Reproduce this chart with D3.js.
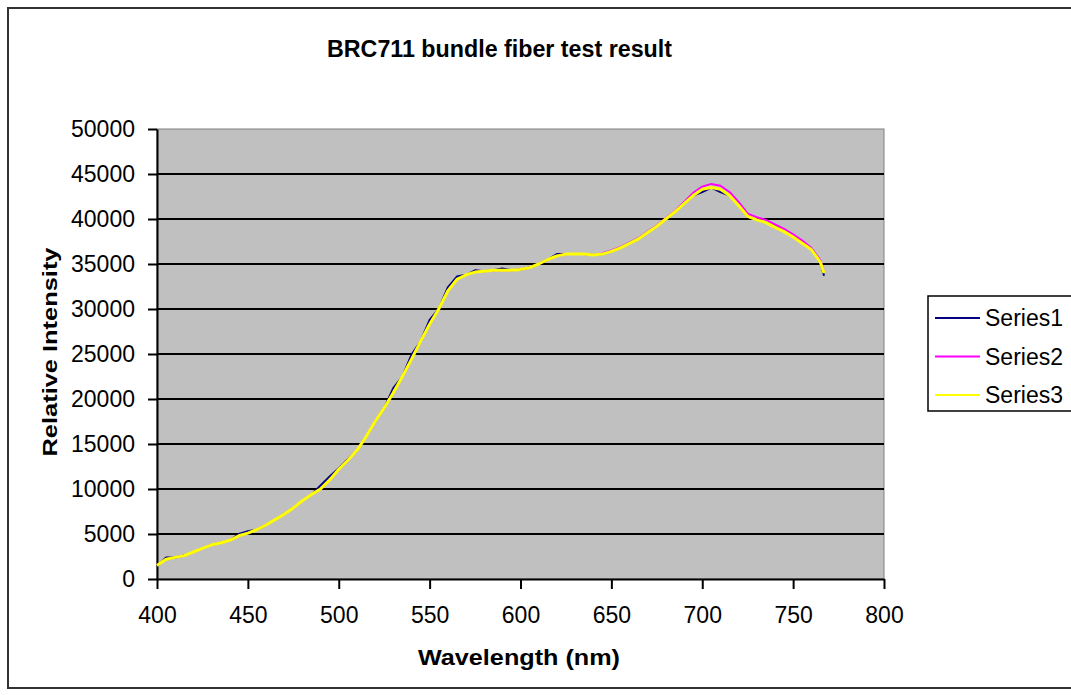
<!DOCTYPE html>
<html>
<head>
<meta charset="utf-8">
<script src="https://cdn.jsdelivr.net/npm/d3@7"></script>
<style>
  html, body { margin: 0; padding: 0; background: #fff; }
  svg { display: block; font-family: "Liberation Sans", Arial, sans-serif; }
</style>
</head>
<body>
<script>
// wavelength (nm) sample points
const wavelengths = [400, 405, 410, 415, 420, 425, 430, 435, 440, 445, 450, 455, 460, 465, 470, 475,
  480, 485, 490, 495, 500, 505, 510, 515, 520, 525, 530, 535, 540, 545, 550, 555, 560, 565, 570,
  575, 580, 585, 590, 595, 600, 605, 610, 615, 620, 625, 630, 635, 640, 645, 650, 655, 660, 665,
  670, 675, 680, 685, 690, 695, 700, 705, 710, 715, 720, 725, 730, 735, 740, 745, 750, 755, 760,
  765, 767];

const series1 = [1400, 2400, 2400, 2600, 3000, 3400, 3800, 4000, 4300, 5000, 5300, 5500, 6000, 6600,
  7200, 7900, 8700, 9400, 10400, 11400, 12300, 13300, 14300, 15800, 17500, 19000, 21200, 22500,
  24900, 26400, 28800, 30000, 32400, 33600, 33800, 34300, 34200, 34300, 34500, 34300, 34400, 34600,
  35000, 35500, 36100, 36100, 36100, 36100, 36000, 36100, 36400, 36800, 37300, 37800, 38500, 39200,
  40000, 40800, 41700, 42600, 43000, 43500, 43000, 42600, 41500, 40300, 39900, 39600, 39300, 38600,
  38000, 37500, 36600, 35200, 33700];

const series2 = [1500, 2200, 2400, 2600, 3000, 3400, 3800, 4000, 4300, 4800, 5100, 5500, 6000, 6600,
  7200, 7900, 8700, 9400, 10000, 11000, 12200, 13200, 14300, 15800, 17500, 19000, 20700, 22500,
  24400, 26400, 28300, 30000, 32000, 33300, 33800, 34100, 34200, 34300, 34300, 34300, 34400, 34600,
  35000, 35500, 35900, 36100, 36100, 36100, 36000, 36200, 36500, 36900, 37400, 37900, 38600, 39300,
  40100, 40900, 41900, 42900, 43600, 43900, 43700, 43000, 41900, 40600, 40200, 39900, 39400, 38900,
  38300, 37600, 36800, 35400, 34100];

const series3 = [1500, 2200, 2400, 2600, 3000, 3400, 3800, 4000, 4300, 4800, 5100, 5500, 6000, 6600,
  7200, 7900, 8700, 9400, 10000, 11000, 12200, 13200, 14300, 15800, 17500, 19000, 20700, 22500,
  24400, 26400, 28300, 30000, 32000, 33300, 33800, 34100, 34200, 34300, 34300, 34300, 34400, 34600,
  35000, 35500, 35900, 36100, 36100, 36100, 36000, 36100, 36400, 36800, 37300, 37800, 38500, 39200,
  40000, 40800, 41700, 42600, 43300, 43500, 43300, 42600, 41500, 40300, 39900, 39600, 39100, 38600,
  38000, 37300, 36600, 35200, 34000];

const seriesNames = ["Series1", "Series2", "Series3"];
const seriesColors = ["#000080", "#ff00ff", "#ffff00"];
const xTicks = [400, 450, 500, 550, 600, 650, 700, 750, 800];
const yTicks = d3.range(0, 50001, 5000);

const W = 1071, H = 695;
const plot = { left: 157, top: 129, right: 884, bottom: 579 };

const svg = d3.select("body").append("svg")
  .attr("width", W)
  .attr("height", H);

// chart frame
svg.append("rect")
  .attr("x", 8).attr("y", 8)
  .attr("width", W + 10).attr("height", 680)
  .attr("fill", "#fff")
  .attr("stroke", "#333")
  .attr("stroke-width", 2);

const x = d3.scaleLinear().domain([400, 800]).range([plot.left, plot.right]);
const y = d3.scaleLinear().domain([0, 50000]).range([plot.bottom, plot.top]);

// plot area
svg.append("rect")
  .attr("x", plot.left).attr("y", plot.top)
  .attr("width", plot.right - plot.left)
  .attr("height", plot.bottom - plot.top)
  .attr("fill", "#c0c0c0")
  .attr("stroke", "#808080")
  .attr("stroke-width", 1);

// gridlines
svg.append("g")
  .selectAll("line")
  .data(yTicks.filter(d => d > 0 && d < 50000))
  .join("line")
  .attr("x1", plot.left).attr("x2", plot.right)
  .attr("y1", d => y(d)).attr("y2", d => y(d))
  .attr("stroke", "#000")
  .attr("stroke-width", 2);

// axes
const yAxis = svg.append("g")
  .attr("transform", `translate(${plot.left},0)`)
  .call(d3.axisLeft(y).tickValues(yTicks).tickFormat(d3.format("d"))
    .tickSizeInner(9).tickSizeOuter(0).tickPadding(13));

const xAxis = svg.append("g")
  .attr("transform", `translate(0,${plot.bottom})`)
  .call(d3.axisBottom(x).tickValues(xTicks).tickFormat(d3.format("d"))
    .tickSizeInner(10).tickSizeOuter(0).tickPadding(18));

[yAxis, xAxis].forEach(ax => {
  ax.select(".domain").attr("stroke", "#000").attr("stroke-width", 2);
  ax.selectAll(".tick line").attr("stroke", "#000").attr("stroke-width", 2);
  ax.selectAll(".tick text")
    .attr("fill", "#000")
    .style("font-size", "23px")
    .style("font-family", "'Liberation Sans', Arial, sans-serif");
});

// series lines
const line = d3.line()
  .x((d, i) => x(wavelengths[i]))
  .y(d => y(d));

[series1, series2, series3].forEach((s, i) => {
  svg.append("path")
    .datum(s)
    .attr("fill", "none")
    .attr("stroke", seriesColors[i])
    .attr("stroke-width", i === 2 ? 3 : 2)
    .attr("stroke-linejoin", "round")
    .attr("d", line);
});

// title
svg.append("text")
  .attr("x", 327).attr("y", 57)
  .attr("textLength", 345)
  .attr("lengthAdjust", "spacingAndGlyphs")
  .style("font-size", "23px")
  .style("font-weight", "bold")
  .text("BRC711 bundle fiber test result");

// axis titles
svg.append("text")
  .attr("x", 519).attr("y", 665)
  .attr("text-anchor", "middle")
  .attr("textLength", 202)
  .attr("lengthAdjust", "spacingAndGlyphs")
  .style("font-size", "22px")
  .style("font-weight", "bold")
  .text("Wavelength (nm)");

svg.append("text")
  .attr("transform", "translate(57,352) rotate(-90)")
  .attr("text-anchor", "middle")
  .attr("textLength", 209)
  .attr("lengthAdjust", "spacingAndGlyphs")
  .style("font-size", "21px")
  .style("font-weight", "bold")
  .text("Relative Intensity");

// legend
const legend = svg.append("g");
legend.append("rect")
  .attr("x", 928).attr("y", 296)
  .attr("width", 160).attr("height", 115)
  .attr("fill", "#fff")
  .attr("stroke", "#000")
  .attr("stroke-width", 1.5);

const legendRows = legend.selectAll("g")
  .data(seriesNames)
  .join("g")
  .attr("transform", (d, i) => `translate(0,${318 + i * 38.5})`);

legendRows.append("line")
  .attr("x1", 935).attr("x2", 980)
  .attr("stroke", (d, i) => seriesColors[i])
  .attr("stroke-width", 2);

legendRows.append("text")
  .attr("x", 985)
  .attr("dy", "0.35em")
  .style("font-size", "23px")
  .text(d => d);
</script>
</body>
</html>
